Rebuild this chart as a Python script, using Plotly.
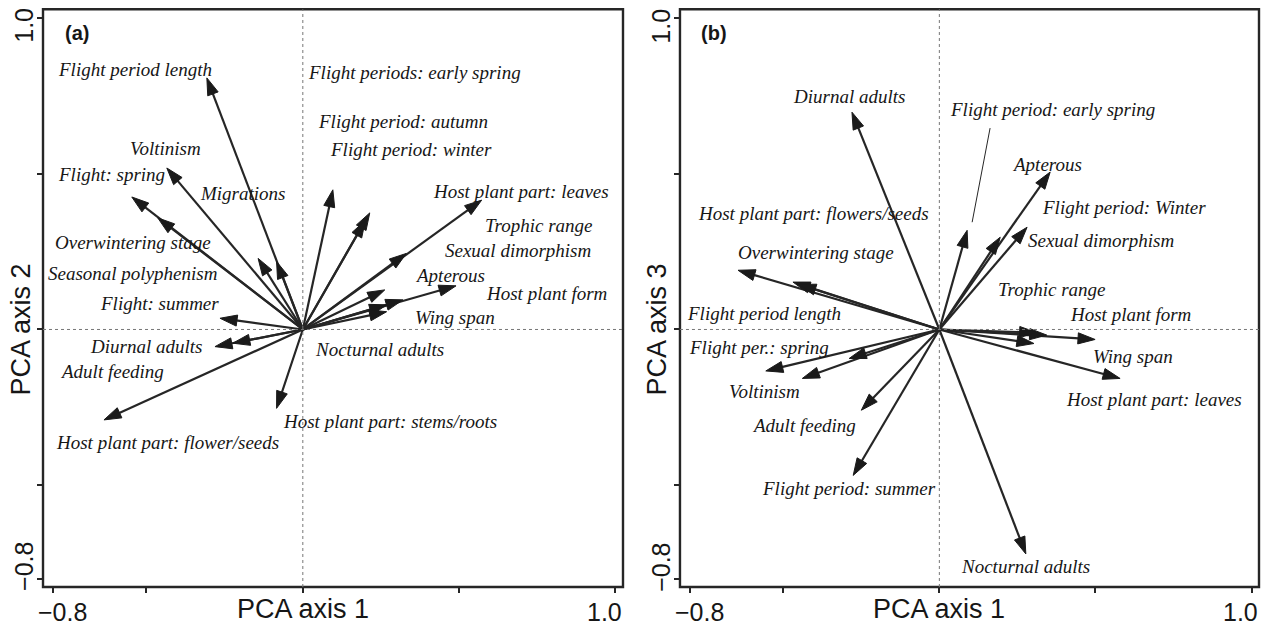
import plotly.graph_objects as go

# ---------------- Panel (a): PCA axis 1 vs PCA axis 2 ----------------
vars_a = ["Flight period length", "Voltinism", "Flight: spring", "Overwintering stage",
          "Seasonal polyphenism", "Migrations", "Flight: summer", "Diurnal adults",
          "Adult feeding", "Host plant part: flower/seeds", "Host plant part: stems/roots",
          "Flight periods: early spring", "Flight period: autumn", "Flight period: winter",
          "Host plant part: leaves", "Trophic range", "Sexual dimorphism", "Host plant form",
          "Apterous", "Wing span", "Nocturnal adults"]
pc1_a = [-0.307, -0.435, -0.547, -0.464, -0.143, -0.084, -0.265, -0.281, -0.224, -0.636, -0.084,
         0.096, 0.214, 0.200, 0.572, 0.331, 0.262, 0.490, 0.320, 0.268, 0.268]
pc2_a = [0.807, 0.518, 0.425, 0.358, 0.228, 0.218, 0.036, -0.055, -0.044, -0.290, -0.253,
         0.448, 0.374, 0.350, 0.415, 0.244, 0.127, 0.140, 0.095, 0.079, 0.057]
# label anchors (left edge, vertical middle), in axis units
lab_a_x = [-0.790, -0.560, -0.790, -0.800, -0.822, -0.336, -0.656, -0.688, -0.784, -0.797, -0.071,
           0.009, 0.041, 0.079, 0.409, 0.575, 0.447, 0.581, 0.351, 0.351, 0.031]
lab_a_y = [0.833, 0.582, 0.496, 0.278, 0.178, 0.435, 0.082, -0.053, -0.136, -0.361, -0.294,
           0.823, 0.666, 0.576, 0.444, 0.332, 0.252, 0.114, 0.172, 0.037, -0.063]

# ---------------- Panel (b): PCA axis 1 vs PCA axis 3 ----------------
vars_b = ["Diurnal adults", "Host plant part: flowers/seeds", "Overwintering stage",
          "Flight period length", "Flight period: early spring", "Apterous",
          "Flight period: Winter", "Sexual dimorphism", "Trophic range", "Host plant form",
          "Wing span", "Host plant part: leaves", "Nocturnal adults", "Flight period: summer",
          "Adult feeding", "Voltinism", "Flight per.: spring", "Migrations", "Seasonal polyphenism"]
pc1_b = [-0.280, -0.645, -0.469, -0.450, 0.089, 0.355, 0.195, 0.281, 0.303, 0.344,
         0.499, 0.579, 0.277, -0.276, -0.250, -0.439, -0.556, -0.289, 0.312]
pc3_b = [0.697, 0.190, 0.152, 0.145, 0.318, 0.505, 0.296, 0.328, -0.045, -0.018,
         -0.032, -0.157, -0.720, -0.468, -0.259, -0.157, -0.133, -0.093, -0.010]
lab_b_x = [-0.476, -0.780, -0.652, -0.816, 0.027, 0.226, 0.322, 0.277, 0.181, 0.412,
           0.486, 0.399, 0.063, -0.575, -0.607, -0.681, -0.809, None, None]
lab_b_y = [0.748, 0.373, 0.248, 0.052, 0.707, 0.530, 0.392, 0.286, 0.129, 0.049,
           -0.086, -0.224, -0.759, -0.509, -0.307, -0.198, -0.057, None, None]
# leader line for "Flight period: early spring" label in panel (b)
leader_b_x = [0.1625, 0.105]
leader_b_y = [0.646, 0.344]

# axis ticks
tick_vals = [-0.8, -0.5, 0.0, 0.5, 1.0]
tick_labels = {-0.8: "\u22120.8", 1.0: "1.0"}

X_RANGE = [-0.831, 1.024]
Y_RANGE = [-0.826, 1.027]
INK = "#262626"
TXT = "#161616"
SERIF = "Liberation Serif"
SANS = "Liberation Sans"

fig = go.Figure()


def add_arrows(xs, ys, xaxis, yaxis):
    px, py, sizes = [], [], []
    for x, y in zip(xs, ys):
        px += [0, x, None]
        py += [0, y, None]
        sizes += [0, 18, 0]
    fig.add_trace(go.Scatter(
        x=px, y=py, mode="lines+markers", xaxis=xaxis, yaxis=yaxis,
        line=dict(color=INK, width=2.2),
        marker=dict(symbol="arrow", size=sizes, angleref="previous", color="#1a1a1a",
                    opacity=1, line=dict(width=1, color="#1a1a1a")),
        opacity=1, hoverinfo="skip", showlegend=False))


add_arrows(pc1_a, pc2_a, "x", "y")
add_arrows(pc1_b, pc3_b, "x2", "y2")
fig.add_trace(go.Scatter(x=leader_b_x, y=leader_b_y, mode="lines", xaxis="x2", yaxis="y2",
                         line=dict(color=INK, width=1), hoverinfo="skip", showlegend=False))

annotations = []
shapes = []


def add_labels(names, lx, ly, xref, yref):
    for n, x, y in zip(names, lx, ly):
        if x is None:
            continue
        annotations.append(dict(x=x, y=y, xref=xref, yref=yref, text=n, showarrow=False,
                                xanchor="left", yanchor="middle",
                                font=dict(family=SERIF, size=19, color=TXT, style="italic")))


add_labels(vars_a, lab_a_x, lab_a_y, "x", "y")
add_labels(vars_b, lab_b_x, lab_b_y, "x2", "y2")

for xr, yr, tag, ytitle in [("x", "y", "(a)", "PCA axis 2"), ("x2", "y2", "(b)", "PCA axis 3")]:
    dom_x = xr + " domain"
    dom_y = yr + " domain"
    # frame
    shapes.append(dict(type="rect", xref=dom_x, yref=dom_y, x0=0, x1=1, y0=0, y1=1,
                       line=dict(color=INK, width=2.4)))
    # dotted zero lines
    shapes.append(dict(type="line", xref=xr, yref=dom_y, x0=0, x1=0, y0=0, y1=1,
                       line=dict(color="#777777", width=1, dash="dot")))
    shapes.append(dict(type="line", xref=dom_x, yref=yr, x0=0, x1=1, y0=0, y1=0,
                       line=dict(color="#777777", width=1, dash="dot")))
    # tick labels
    for v, t in tick_labels.items():
        shift = 10 if v < 0 else -11
        annotations.append(dict(x=v, y=0, xref=xr, yref=dom_y, text=t, showarrow=False,
                                xanchor="center", yanchor="middle", xshift=shift, yshift=-25,
                                font=dict(family=SANS, size=25, color=TXT)))
        yshift = 12 if v < 0 else -8
        annotations.append(dict(x=0, y=v, xref=dom_x, yref=yr, text=t, showarrow=False,
                                textangle=-90, xanchor="center", yanchor="middle",
                                xshift=-19, yshift=yshift,
                                font=dict(family=SANS, size=25, color=TXT)))
    # axis titles
    annotations.append(dict(x=0, y=0, xref=xr, yref=dom_y, text="PCA axis 1", showarrow=False,
                            xanchor="center", yanchor="middle", yshift=-22,
                            font=dict(family=SANS, size=27, color=TXT)))
    annotations.append(dict(x=0, y=0, xref=dom_x, yref=yr, text=ytitle, showarrow=False,
                            textangle=-90, xanchor="center", yanchor="middle", xshift=-22,
                            font=dict(family=SANS, size=27, color=TXT)))
    # panel tag
    annotations.append(dict(x=-0.722, y=0.951, xref=xr, yref=yr, text="<b>" + tag + "</b>",
                            showarrow=False, xanchor="center", yanchor="middle",
                            font=dict(family=SANS, size=20, color=TXT)))

axis_common = dict(showgrid=False, zeroline=False, showline=False,
                   ticks="outside", ticklen=5, tickwidth=2, tickcolor=INK,
                   tickvals=tick_vals, showticklabels=False, fixedrange=True)

fig.update_layout(
    width=1266, height=626,
    margin=dict(l=0, r=0, t=0, b=0),
    paper_bgcolor="white", plot_bgcolor="white",
    showlegend=False,
    xaxis=dict(axis_common, range=X_RANGE, domain=[0.03397, 0.4921], anchor="y"),
    yaxis=dict(axis_common, range=Y_RANGE, domain=[0.0623, 0.98514], anchor="x"),
    xaxis2=dict(axis_common, range=X_RANGE, domain=[0.5371, 0.99447], anchor="y2"),
    yaxis2=dict(axis_common, range=Y_RANGE, domain=[0.0623, 0.98514], anchor="x2"),
    annotations=annotations,
    shapes=shapes,
)

fig.write_html("out.html")
